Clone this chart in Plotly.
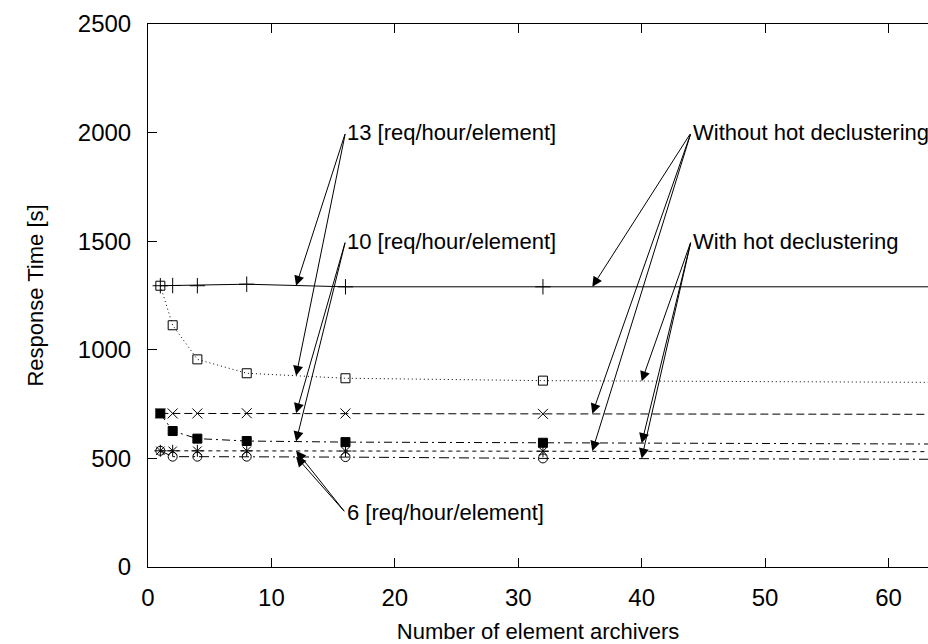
import plotly.graph_objects as go

# ---- data ----
archivers = [1, 2, 4, 8, 16, 32, 64]
rt13_without = [1295, 1296, 1295, 1302, 1290, 1290, 1290]
rt13_with = [1295, 1113, 956, 892, 869, 858, 850]
rt10_without = [707, 707, 707, 708, 707, 705, 703]
rt10_with = [707, 626, 591, 580, 575, 572, 566]
rt6_without = [535, 535, 535, 535, 534, 533, 531]
rt6_with = [535, 508, 508, 508, 506, 500, 496]

x_ticks = [0, 10, 20, 30, 40, 50, 60]
y_ticks = [0, 500, 1000, 1500, 2000, 2500]

FONT = "Liberation Sans, Arial, sans-serif"

series = [
    ("13 without", rt13_without, "solid", "cross-thin-open", 11),
    ("13 with", rt13_with, "1px,3px", "square-open", 9),
    ("10 without", rt10_without, "8px,4px", "x-thin-open", 10),
    ("10 with", rt10_with, "8px,4px,2px,4px", "square", 9),
    ("6 without", rt6_without, "4px,4px", "asterisk-open", 10),
    ("6 with", rt6_with, "10px,4px,2px,4px", "circle-open", 9),
]

fig = go.Figure()
for name, ys, dash, sym, size in series:
    fig.add_trace(go.Scatter(
        x=archivers, y=ys, name=name, mode="lines+markers",
        line=dict(color="black", width=1, dash=dash),
        marker=dict(symbol=sym, size=size, color="black",
                    line=dict(color="black", width=1)),
        showlegend=False, cliponaxis=True,
    ))

# ---- annotations (labels + arrows) ----
labels = [
    ("13 [req/hour/element]", 16, 2000, [(12, 1295), (12, 880)]),
    ("10 [req/hour/element]", 16, 1500, [(12, 708), (12, 578)]),
    ("6 [req/hour/element]", 16, 250, [(12, 535), (12, 508)]),
    ("Without hot declustering", 44, 2000, [(36, 1290), (36, 706), (36, 534)]),
    ("With hot declustering", 44, 1500, [(40, 855), (40, 570), (40, 500)]),
]

annotations = []
for text, tx, ty, tips in labels:
    annotations.append(dict(
        x=tx, y=ty, xref="x", yref="y", text=text, showarrow=False,
        xanchor="left", yanchor="middle",
        font=dict(family=FONT, size=22, color="black"),
    ))
    for (px, py) in tips:
        annotations.append(dict(
            x=px, y=py, xref="x", yref="y", ax=tx, ay=ty,
            axref="x", ayref="y", text="", showarrow=True,
            arrowhead=2, arrowsize=2, arrowwidth=1, arrowcolor="black",
            standoff=0, startstandoff=0,
        ))

fig.update_layout(
    width=928, height=644,
    margin=dict(l=148, r=0, t=24, b=77),
    paper_bgcolor="white", plot_bgcolor="white",
    font=dict(family=FONT, size=24, color="black"),
    annotations=annotations,
)

fig.update_xaxes(
    range=[0, 63.2], tickvals=x_ticks, ticks="inside", ticklen=9,
    tickcolor="black", showline=True, linecolor="black", linewidth=1,
    mirror="ticks", showgrid=False, zeroline=False,
    ticklabelstandoff=9,
    title=dict(text="Number of element archivers", standoff=14,
               font=dict(family=FONT, size=22)),
)
fig.update_yaxes(
    range=[0, 2500], tickvals=y_ticks, ticks="inside", ticklen=9,
    tickcolor="black", showline=True, linecolor="black", linewidth=1,
    mirror=False, showgrid=False, zeroline=False,
    ticklabelstandoff=11,
    title=dict(text="Response Time [s]", standoff=28,
               font=dict(family=FONT, size=22)),
)

fig.write_html("out.html")
